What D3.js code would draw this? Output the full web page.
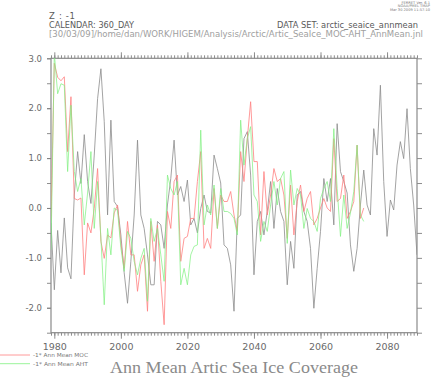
<!DOCTYPE html>
<html>
<head>
<meta charset="utf-8">
<script src="https://cdn.jsdelivr.net/npm/d3@7/dist/d3.min.js"></script>
<style>
  body { margin: 0; background: #fff; }
  svg { display: block; font-family: "DejaVu Sans", sans-serif; }
</style>
</head>
<body>
<svg id="chart" width="441" height="377"></svg>
<script>
// annual values, first point at startYear, one per year
const startYear = 1979;
const iceCover = [
  -0.3, -1.64, -0.45, -1.3, -0.2, -1.2, -1.42, 0.26, 1.13, 0.49,
  1.47, 0.53, 0.09, 1.06, 2.19, 2.79, 1.73, -0.14, 1.76, 0.13,
  0.03, -0.54, -1.3, -1.91, -1.07, -0.14, 1.36, -0.14, -0.41, -0.94,
  -1.54, -1.54, -0.27, -0.34, -0.81, 0.06, 0.59, 1.36, 0.26, 0.43,
  0.13, 0.56, -0.34, -0.21, -0.5, -0.01, 0.26, -0.07, -0.1, 1.06,
  0.79, 0.5, -0.74, -0.81, -1.14, -2.07, -0.21, -0.14, 1.39, 1.53,
  0.66, -1.34, -0.27, -0.07, -0.54, -0.07, 0.53, -0.41, 0.39, -0.07,
  -0.27, -1.54, -0.67, -1.21, 0.26, 0.33, -0.07, -0.27, -0.81, -2.01,
  -1.21, -0.47, 0.59, 0.13, 0.59, -0.34, 1.69, 0.73, 0.53, 0.3,
  -0.74, -1.27, -0.81, 0.06, 0.76, 0.06, -0.14, 1.59, 1.06, 2.46,
  0.53, -0.57, 0.16, -0.04, 0.86, 1.33, 0.99, 1.99, 0.79, 0.06,
  -0.94
];
const mocNeg = [
  -0.24, 2.9, 2.62, 2.55, 2.63, 1.13, 2.23, 0.19, 0.16, 0.2,
  -1.34, -0.3, -0.5, -0.01, 0.79, -0.67, -1.01, -0.54, -0.6, -0.1,
  0.06, -0.7, -1.21, -0.27, -0.94, -0.94, -1.67, -1.14, -0.94, -2.07,
  -0.27, -1.07, -0.34, -1.47, -2.34, -0.07, -0.41, 0.53, 0.66, -1.07,
  -0.61, -0.57, -0.21, -0.21, 0.53, 1.13, -0.81, -0.61, -0.81, 0.39,
  -0.41, 0.26, 0.13, 0.13, 0.33, -0.14, -0.47, 1.13, 0.53, 1.39,
  2.13, 0.93, 0.93, -0.54, 0.73, -0.14, 0.26, 0.79, 0.53, 0.59,
  0.26, -0.61, 0.46, -0.54, 0.13, 0.46, -0.07, 0.19, 0.33, -0.34,
  -0.21, 0.0, 0.19, 0.0, -0.07, 1.39, 0.13, 0.19, 0.66, -0.21,
  -0.07, 0.13, 1.26, -0.21, 0.0
];
const ahtNeg = [
  -0.84, 3.1, 2.29, 2.49, 2.46, 0.73, 2.06, 0.73, 0.33, 0.59,
  -0.34, 0.3, 1.13, -0.41, 0.53, -0.6, -1.94, -0.41, -0.94, 0.0,
  -0.05, -0.8, -1.27, -0.47, -0.61, -1.07, -1.34, -1.01, -0.81, -1.87,
  -0.21, -0.67, -0.41, -0.94, -1.47, 0.66, 0.39, 0.26, 0.53, -1.54,
  -1.21, -1.54, -0.94, -0.77, -0.74, 1.56, -0.34, 0.06, -0.14, 0.46,
  -0.41, 0.39, -0.07, -0.07, -0.11, -0.21, -0.54, 1.76, 0.86, 1.39,
  1.63, 0.26, 0.13, -0.67, -0.27, -0.47, 0.06, 0.53, 0.06, 0.59,
  0.73, -0.71, 0.76, 0.06, 0.39, 0.26, -0.41, -0.01, -0.21, -0.27,
  -0.47, 0.19, 0.39, 0.53, 0.13, 1.59, 0.39, -0.57, 0.26, -0.41,
  -0.1, 0.33, 1.26, -0.14, -0.27
];
const seriesNames = ["-1* Ann Mean MOC", "-1* Ann Mean AHT"];
const xLabelTicks = [1980, 2000, 2020, 2040, 2060, 2080];
const yLabelTicks = [-2, -1, 0, 1, 2, 3];

const svg = d3.select("#chart");
const pLeft = 51, pRight = 417, pTop = 58.3, pBottom = 332.7;

const x = d3.scaleLinear().domain([1979, 2089]).range([pLeft, pRight]);
const y = d3.scaleLinear().domain([-2.5, 3.0]).range([pBottom, pTop]);

svg.append("rect").attr("width", 441).attr("height", 377).attr("fill", "#fff");

// header texts
const hdr = svg.append("g").attr("fill", "#5a5a5a");
hdr.append("text").attr("x", 49).attr("y", 18.5).attr("font-size", 8.5)
  .attr("textLength", 26).text("Z : -1");
hdr.append("text").attr("x", 49).attr("y", 28).attr("font-size", 8.5)
  .attr("textLength", 85).attr("lengthAdjust", "spacingAndGlyphs").text("CALENDAR: 360_DAY");
hdr.append("text").attr("x", 277).attr("y", 28).attr("font-size", 8.5)
  .attr("textLength", 141).attr("lengthAdjust", "spacingAndGlyphs").text("DATA SET: arctic_seaice_annmean");
svg.append("text").attr("x", 49).attr("y", 36.5).attr("font-size", 8.5).attr("fill", "#a0a0a0")
  .attr("textLength", 374).attr("lengthAdjust", "spacingAndGlyphs")
  .text("[30/03/09]/home/dan/WORK/HIGEM/Analysis/Arctic/Artic_SeaIce_MOC-AHT_AnnMean.jnl");

const stamp = svg.append("g").attr("fill", "#777").attr("font-size", 3.6).attr("text-anchor", "end");
["FERRET Ver. 6.1", "NOAA/PMEL TMAP", "Mar 30 2009 11:57:10"].forEach((t, i) => {
  stamp.append("text").attr("x", 430).attr("y", 4 + i * 3.3).text(t);
});

// axes
const axisColor = "#808080";
function styleAxis(g) {
  g.select(".domain").remove();
  g.selectAll(".tick line").attr("stroke", axisColor).attr("stroke-width", 0.9);
  g.selectAll(".tick text").attr("fill", "#6a6a6a").attr("font-family", "DejaVu Sans, sans-serif");
}
const yearTicks = d3.range(1979, 2090);
const halfTicks = d3.range(-2.5, 3.01, 0.5);

svg.append("g").attr("transform", `translate(0,${pBottom})`)
  .call(d3.axisBottom(x).tickValues(yearTicks).tickSize(3).tickFormat("")).call(styleAxis);
svg.append("g").attr("transform", `translate(0,${pBottom})`)
  .call(d3.axisBottom(x).tickValues(xLabelTicks).tickSize(6).tickPadding(4.6).tickFormat(d3.format("d")))
  .call(styleAxis)
  .selectAll("text").attr("font-size", 9.5);
svg.append("g").attr("transform", `translate(0,${pTop})`)
  .call(d3.axisTop(x).tickValues(yearTicks).tickSize(3).tickFormat("")).call(styleAxis);
svg.append("g").attr("transform", `translate(0,${pTop})`)
  .call(d3.axisTop(x).tickValues(xLabelTicks).tickSize(6).tickFormat("")).call(styleAxis);

svg.append("g").attr("transform", `translate(${pLeft},0)`)
  .call(d3.axisLeft(y).tickValues(halfTicks).tickSize(4).tickFormat("")).call(styleAxis);
svg.append("g").attr("transform", `translate(${pLeft},0)`)
  .call(d3.axisLeft(y).tickValues(yLabelTicks).tickSize(4).tickPadding(5).tickFormat(d => d.toFixed(1)))
  .call(styleAxis)
  .selectAll("text").attr("font-size", 8.5);
svg.append("g").attr("transform", `translate(${pRight},0)`)
  .call(d3.axisRight(y).tickValues(halfTicks).tickSize(5).tickFormat("")).call(styleAxis);

// frame
svg.append("rect").attr("x", pLeft).attr("y", pTop)
  .attr("width", pRight - pLeft).attr("height", pBottom - pTop)
  .attr("fill", "none").attr("stroke", "#8a8a8a").attr("stroke-width", 1.2);

// lines
svg.append("clipPath").attr("id", "plotClip").append("rect")
  .attr("x", pLeft).attr("y", pTop).attr("width", pRight - pLeft).attr("height", pBottom - pTop);

const line = d3.line().x((d, i) => x(startYear + i)).y(d => y(d));
const plot = svg.append("g").attr("clip-path", "url(#plotClip)").attr("fill", "none");
plot.append("path").datum(iceCover).attr("d", line)
  .attr("stroke", "#8c8c8c").attr("stroke-width", 0.8);
plot.append("path").datum(mocNeg).attr("d", line)
  .attr("stroke", "#ff8080").attr("stroke-width", 0.8);
plot.append("path").datum(ahtNeg).attr("d", line)
  .attr("stroke", "#80f080").attr("stroke-width", 0.8).attr("stroke-opacity", 0.9);

// legend
const legendColors = ["#ff8080", "#80f080"];
const legend = svg.append("g");
seriesNames.forEach((name, i) => {
  const ly = 355 + i * 8.7;
  legend.append("line").attr("x1", 0).attr("x2", 30).attr("y1", ly).attr("y2", ly)
    .attr("stroke", legendColors[i]).attr("stroke-width", 0.8);
  legend.append("text").attr("x", 33).attr("y", ly + 1.8).attr("font-size", 5.5)
    .attr("fill", "#777").attr("textLength", 55).attr("lengthAdjust", "spacingAndGlyphs").text(name);
});

// title
svg.append("text").attr("x", 110).attr("y", 373).attr("font-family", "Liberation Serif, serif")
  .attr("font-size", 16).attr("fill", "#8a8a8a").attr("textLength", 248).attr("lengthAdjust", "spacingAndGlyphs")
  .text("Ann Mean Artic Sea Ice Coverage");
</script>
</body>
</html>
